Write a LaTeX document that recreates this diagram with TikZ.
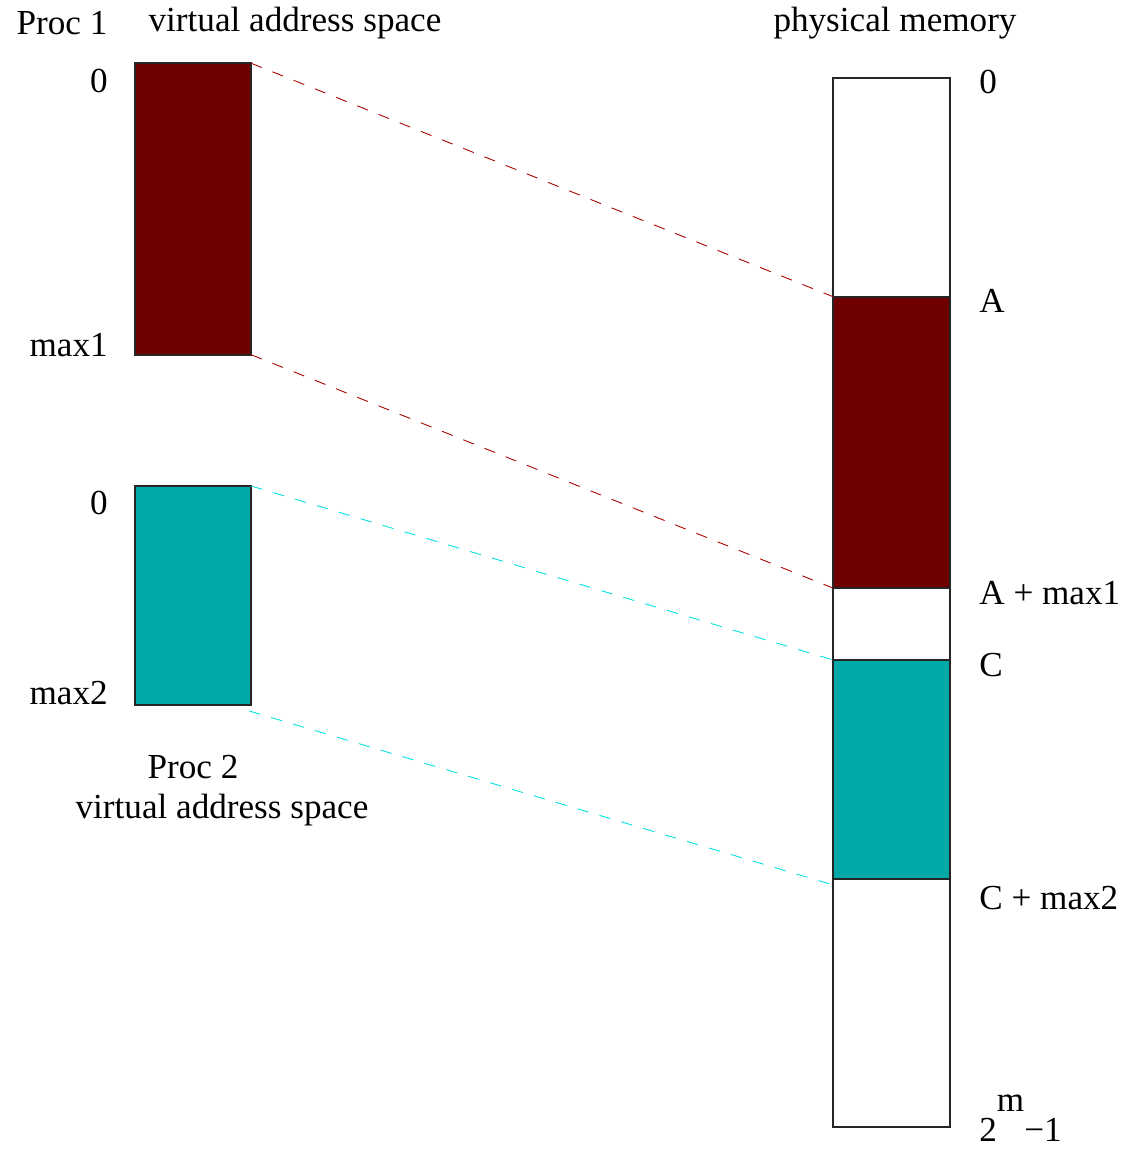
\documentclass[tikz,border=0pt]{standalone}
\usepackage{fontspec}
\setmainfont{Liberation Serif}
\usepackage{tikz}
\usetikzlibrary{calc}
\definecolor{SegRed}{HTML}{700000}
\definecolor{SegTeal}{HTML}{00A8A8}
\definecolor{MapRed}{HTML}{A80000}
\definecolor{MapCyan}{HTML}{00E0E0}

\begin{document}
\begin{tikzpicture}[x=0.02cm, y=-0.02cm,
  lbl/.style={font=\fontsize{20}{24}\selectfont, inner sep=0pt},
  seg/.style={draw=black!85, line width=1pt, inner sep=0pt, outer sep=0pt, minimum width=2.33cm},
  map/.style={line width=0.5pt, dash pattern=on 6.5pt off 6.5pt}]
\useasboundingbox (0,0) rectangle (1123,1151);
% virtual address spaces
\node[seg, fill=SegRed,  minimum height=5.83cm] (v1) at (193,209) {};
\node[seg, fill=SegTeal, minimum height=4.38cm] (v2) at (193,595.5) {};
% physical memory
\node[seg, fill=white, minimum height=20.98cm] (mem) at (891.5,602.5) {};
\node[seg, fill=SegRed,  minimum height=5.83cm] (p1) at (891.5,442.5) {};
\node[seg, fill=SegTeal, minimum height=4.38cm] (p2) at (891.5,769.5) {};
% labels
\node[lbl] (t1) at (62,23)  {Proc 1};
\node[lbl] (t2) at (295,23) {virtual address space};
\node[lbl] (t3) at (895,23) {physical memory};
\node[lbl, anchor=east] (z1) at (108,81)  {0};
\node[lbl, anchor=east] (m1) at (108,345) {max1};
\node[lbl, anchor=east] (z2) at (108,503) {0};
\node[lbl, anchor=east] (m2) at (108,693) {max2};
\node[lbl] (t4) at (193,767) {Proc 2};
\node[lbl] (t5) at (222,810) {virtual address space};
\node[lbl, anchor=west] (a0) at (979,82)  {0};
\node[lbl, anchor=west] (a1) at (979,301) {A};
\node[lbl, anchor=west] (a2) at (979,593) {A + max1};
\node[lbl, anchor=west] (a3) at (979,665) {C};
\node[lbl, anchor=west] (a4) at (979,898) {C + max2};
\node[lbl, anchor=base west] (a5) at (979,1141) {2\raisebox{0.85em}{m}−1};
% mappings
\draw[map, MapRed]  (v1.north east) -- (p1.north west);
\draw[map, MapRed]  (v1.south east) -- (p1.south west);
\draw[map, MapCyan] (v2.north east) -- (p2.north west);
\draw[map, MapCyan] ($(v2.south east)+(-2,6)$) -- ($(p2.south west)+(0,6)$);
\end{tikzpicture}
\end{document}
